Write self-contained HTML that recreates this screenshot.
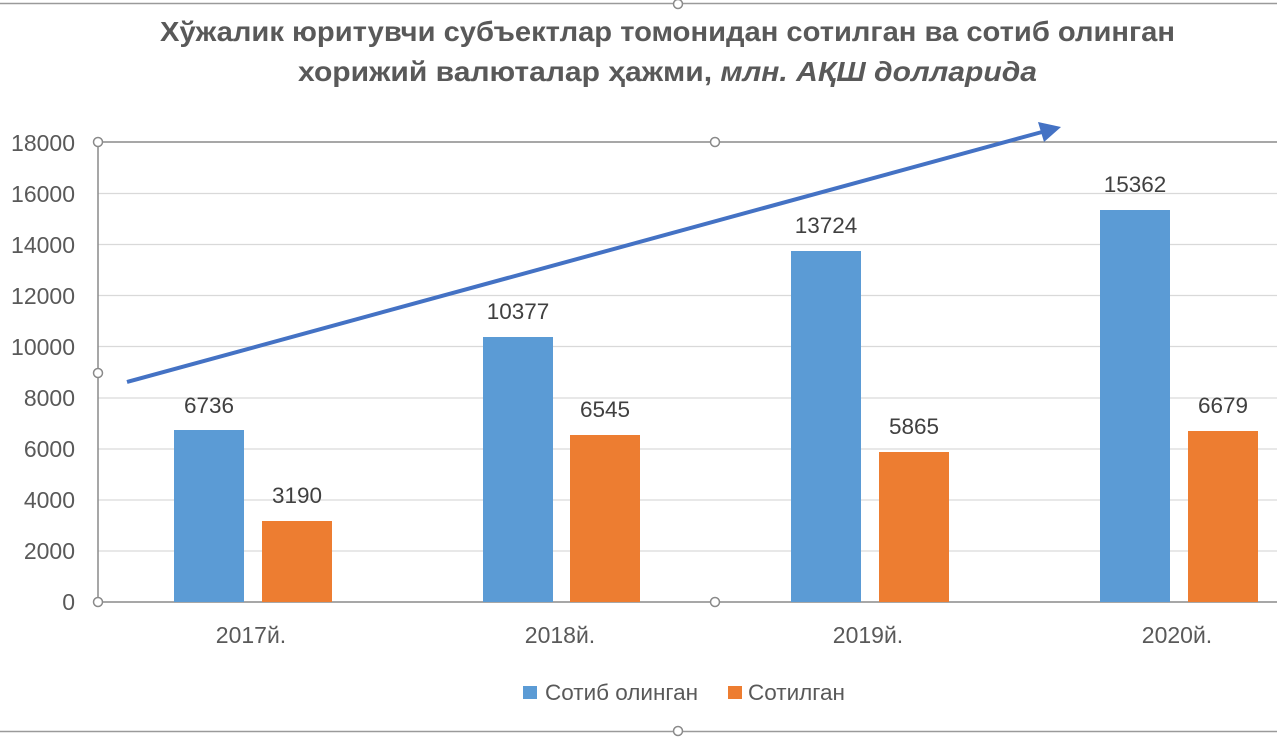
<!DOCTYPE html>
<html><head><meta charset="utf-8"><style>
html,body{margin:0;padding:0;background:#fff;}
svg{display:block;}
text{font-family:"Liberation Sans","DejaVu Sans",sans-serif;}
</style></head><body>
<svg width="1277" height="745" viewBox="0 0 1277 745" xmlns="http://www.w3.org/2000/svg">
<rect width="1277" height="745" fill="#fff"/>
<line x1="0" y1="3.5" x2="1277" y2="3.5" stroke="#9a9a9a" stroke-width="1.5"/>
<line x1="0" y1="731.5" x2="1277" y2="731.5" stroke="#9a9a9a" stroke-width="1.5"/>
<text x="160" y="41" textLength="1015" lengthAdjust="spacingAndGlyphs" font-size="28" font-weight="bold" fill="#595959">Хўжалик юритувчи субъектлар томонидан сотилган ва сотиб олинган</text>
<text x="298" y="81" textLength="739" lengthAdjust="spacingAndGlyphs" font-size="28" font-weight="bold" fill="#595959">хорижий валюталар ҳажми, <tspan font-style="italic">млн. АҚШ долларида</tspan></text>
<g stroke="#d9d9d9" stroke-width="1.3">
<line x1="98" y1="551" x2="1277" y2="551"/>
<line x1="98" y1="500" x2="1277" y2="500"/>
<line x1="98" y1="449" x2="1277" y2="449"/>
<line x1="98" y1="398" x2="1277" y2="398"/>
<line x1="98" y1="346.5" x2="1277" y2="346.5"/>
<line x1="98" y1="295.5" x2="1277" y2="295.5"/>
<line x1="98" y1="244.5" x2="1277" y2="244.5"/>
<line x1="98" y1="193.5" x2="1277" y2="193.5"/>
</g>
<line x1="98" y1="142" x2="1277" y2="142" stroke="#8a8a8a" stroke-width="1.5"/>
<line x1="98" y1="602" x2="1277" y2="602" stroke="#8a8a8a" stroke-width="1.5"/>
<line x1="98" y1="142" x2="98" y2="602" stroke="#8a8a8a" stroke-width="1.5"/>
<g font-size="23" fill="#595959" text-anchor="end">
<text x="75" y="610">0</text><text x="75" y="559">2000</text><text x="75" y="508">4000</text>
<text x="75" y="457">6000</text><text x="75" y="406">8000</text><text x="75" y="355">10000</text>
<text x="75" y="304">12000</text><text x="75" y="253">14000</text><text x="75" y="202">16000</text>
<text x="75" y="151">18000</text>
</g>
<g fill="#5b9bd5">
<rect x="174" y="430" width="70" height="172"/>
<rect x="483" y="337" width="70" height="265"/>
<rect x="791" y="251" width="70" height="351"/>
<rect x="1100" y="210" width="70" height="392"/>
</g>
<g fill="#ed7d31">
<rect x="262" y="521" width="70" height="81"/>
<rect x="570" y="435" width="70" height="167"/>
<rect x="879" y="452" width="70" height="150"/>
<rect x="1188" y="431" width="70" height="171"/>
</g>
<g font-size="22.5" fill="#404040" text-anchor="middle">
<text x="209" y="413">6736</text><text x="297" y="503">3190</text>
<text x="518" y="319">10377</text><text x="605" y="417">6545</text>
<text x="826" y="233">13724</text><text x="914" y="434">5865</text>
<text x="1135" y="192">15362</text><text x="1223" y="413">6679</text>
</g>
<g font-size="23" fill="#595959" text-anchor="middle">
<text x="251" y="643">2017й.</text><text x="560" y="643">2018й.</text>
<text x="868" y="643">2019й.</text><text x="1177" y="643">2020й.</text>
</g>
<line x1="127" y1="382" x2="1042" y2="132" stroke="#4472c4" stroke-width="4"/>
<polygon points="1061,127 1038,122 1044,142" fill="#4472c4"/>
<rect x="523" y="686" width="14" height="13" fill="#5b9bd5"/>
<text x="545" y="700" font-size="22.5" fill="#595959">Сотиб олинган</text>
<rect x="728" y="686" width="14" height="13" fill="#ed7d31"/>
<text x="748" y="700" font-size="22.5" fill="#595959">Сотилган</text>
<g fill="#fff" stroke="#8a8a8a" stroke-width="1.5">
<circle cx="98" cy="142" r="4.5"/><circle cx="715" cy="142" r="4.5"/>
<circle cx="98" cy="373" r="4.5"/><circle cx="98" cy="602" r="4.5"/>
<circle cx="715" cy="602" r="4.5"/><circle cx="678" cy="4" r="4.5"/>
<circle cx="678" cy="731" r="4.5"/>
</g>
</svg>
</body></html>
